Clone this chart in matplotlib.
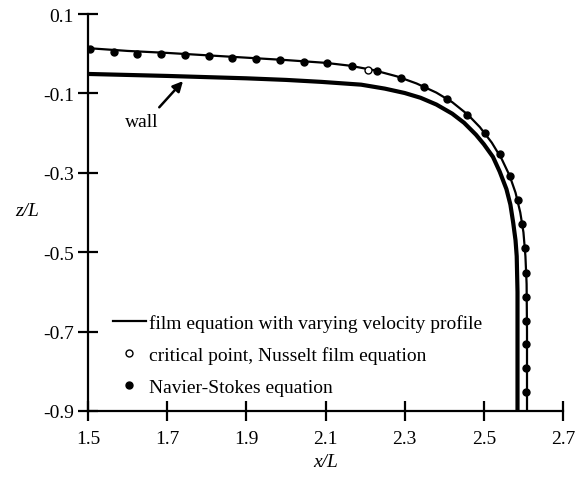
import matplotlib
matplotlib.use("Agg")
import matplotlib.pyplot as plt

plt.rcParams["font.family"] = ["Liberation Serif", "DejaVu Serif"]
plt.rcParams["axes.unicode_minus"] = False

# film equation with varying velocity profile (thin line)
film_x = [1.50, 1.60, 1.70, 1.80, 1.90, 2.00, 2.10, 2.16, 2.22, 2.28, 2.33, 2.38, 2.42,
          2.46, 2.49, 2.52, 2.545, 2.565, 2.58, 2.592, 2.600, 2.605, 2.608, 2.609, 2.609]
film_y = [0.014, 0.007, 0.002, -0.004, -0.010, -0.016, -0.023, -0.030, -0.041, -0.057,
          -0.075, -0.098, -0.122, -0.154, -0.185, -0.224, -0.265, -0.307, -0.350, -0.400,
          -0.450, -0.510, -0.580, -0.700, -0.900]

# wall (thick line)
wall_x = [1.50, 1.70, 1.90, 2.00, 2.09, 2.19, 2.25, 2.30, 2.34, 2.38, 2.42, 2.45, 2.48,
          2.50, 2.523, 2.54, 2.557, 2.567, 2.574, 2.580, 2.583, 2.585, 2.585]
wall_y = [-0.051, -0.056, -0.062, -0.066, -0.071, -0.078, -0.088, -0.099, -0.111, -0.128,
          -0.151, -0.174, -0.204, -0.228, -0.260, -0.297, -0.341, -0.380, -0.425, -0.470,
          -0.510, -0.600, -0.900]

# Navier-Stokes solution points
ns_x = [1.505, 1.565, 1.625, 1.685, 1.745, 1.805, 1.865, 1.925, 1.985, 2.045, 2.104,
        2.166, 2.229, 2.290, 2.349, 2.406, 2.458, 2.503, 2.540, 2.567, 2.586, 2.596,
        2.603, 2.606, 2.607, 2.607, 2.607, 2.607, 2.607]
ns_y = [0.013, 0.005, 0.000, -0.002, -0.004, -0.007, -0.010, -0.013, -0.016, -0.020,
        -0.024, -0.032, -0.044, -0.061, -0.085, -0.114, -0.154, -0.200, -0.253, -0.309,
        -0.369, -0.430, -0.490, -0.552, -0.613, -0.673, -0.731, -0.792, -0.852]

# critical point, Nusselt film equation
crit_x = [2.208]
crit_y = [-0.040]

x_ticks = [1.5, 1.7, 1.9, 2.1, 2.3, 2.5, 2.7]
y_ticks = [0.1, -0.1, -0.3, -0.5, -0.7, -0.9]

fig = plt.figure(figsize=(5.82, 4.81), dpi=100)
ax = fig.add_axes([0.1512, 0.1435, 0.8162, 0.8253])

ax.plot(wall_x, wall_y, color="black", lw=3.0, solid_capstyle="butt")
film, = ax.plot(film_x, film_y, color="black", lw=1.6,
                label="film equation with varying velocity profile")
crit, = ax.plot(crit_x, crit_y, ls="none", marker="o", ms=5, mfc="white", mec="black",
                mew=1.0, label="critical point, Nusselt film equation", zorder=4)
ns, = ax.plot(ns_x, ns_y, ls="none", marker="o", ms=5, color="black",
              label="Navier-Stokes equation", zorder=3)

ax.annotate("", xy=(1.74, -0.069), xytext=(1.68, -0.135),
            arrowprops=dict(arrowstyle="-|>,head_length=0.6,head_width=0.3",
                            color="black", lw=1.8, shrinkA=0, shrinkB=0))
ax.text(1.635, -0.172, "wall", fontsize=14, ha="center", va="center")

ax.set_xlim(1.5, 2.7)
ax.set_ylim(-0.9, 0.1)
ax.set_xticks(x_ticks)
ax.set_yticks(y_ticks)
ax.set_xticklabels([f"{v:.1f}" for v in x_ticks])
ax.set_yticklabels([f"{v:.1f}" for v in y_ticks])
ax.tick_params(direction="inout", length=14, width=1.6, labelsize=14, pad=3)
ax.tick_params(axis="x", pad=7)
for side in ["top", "right"]:
    ax.spines[side].set_visible(False)
for side in ["left", "bottom"]:
    ax.spines[side].set_linewidth(1.6)

ax.set_xlabel("x/L", fontsize=14, style="italic", labelpad=4)
ax.set_ylabel("z/L", fontsize=14, style="italic", rotation=0)
ax.yaxis.set_label_coords(-0.128, 0.484)

ax.legend(handles=[film, crit, ns], loc="upper left", bbox_to_anchor=(0.052, 0.245),
          frameon=False, fontsize=14, handlelength=1.7, handletextpad=0.15,
          labelspacing=0.74, borderpad=0, borderaxespad=0)

fig.savefig("out.png", dpi=100)
